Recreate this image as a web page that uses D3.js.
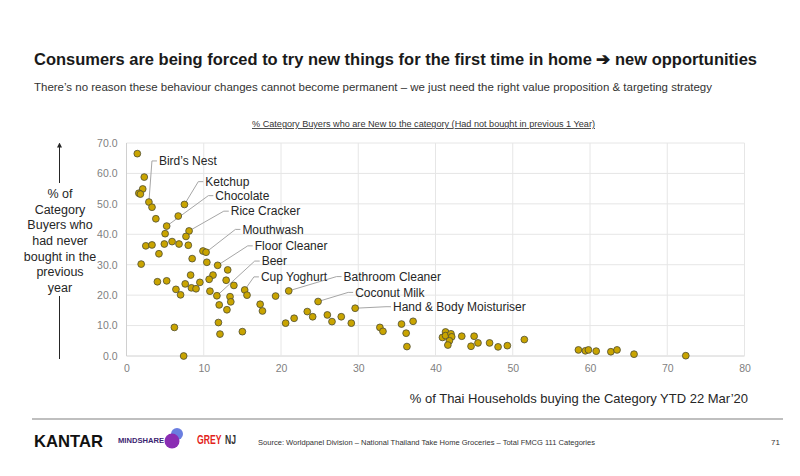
<!DOCTYPE html>
<html>
<head>
<meta charset="utf-8">
<script src="https://cdn.jsdelivr.net/npm/d3@7"></script>
<style>
  body { margin:0; background:#fff; }
  text { font-family: "Liberation Sans", Arial, sans-serif; }
</style>
</head>
<body>
<div id="chart"></div>
<script>
// % of Thai households buying the category (x) vs % of category buyers new to it (y)
const households = [1.4,2.3,2.1,1.6,1.8,2.9,3.3,3.8,7.5,6.7,5.2,5.0,8.1,7.7,2.5,3.3,4.9,5.9,6.8,8.0,
  9.9,10.3,4.2,8.5,1.9,10.4,11.8,13.1,8.3,11.2,10.7,12.9,4.0,5.2,7.6,9.5,8.4,9.0,6.4,7.0,
  10.8,11.7,13.4,13.5,12.0,13.0,11.9,12.1,6.2,7.4,13.9,15.3,15.6,15.0,17.3,17.6,19.3,21.0,20.6,21.7,
  23.4,24.1,24.8,26.0,26.6,27.8,29.1,29.6,32.8,33.2,35.6,37.1,36.2,36.3,40.9,41.3,41.3,42.0,42.1,41.8,
  41.6,43.4,45.0,44.6,45.5,47.0,48.1,49.3,51.5,58.5,59.4,59.8,60.8,62.7,63.5,65.7,72.4]
const newBuyers = [66.5,58.8,54.9,53.5,53.2,50.6,48.9,45.1,49.8,46.0,42.7,40.2,41.1,39.3,36.2,36.5,36.8,37.6,36.8,36.4,
  34.5,34.1,33.6,32.0,30.2,30.8,29.8,28.3,26.6,26.6,25.2,24.9,24.4,24.7,23.7,24.2,22.4,22.1,21.9,20.1,
  21.3,19.8,19.5,17.8,16.8,15.2,11.0,7.2,9.4,0.0,23.2,21.7,20.0,8.0,17.0,14.8,19.7,21.4,10.8,12.4,
  14.6,12.9,17.9,13.5,11.3,12.9,10.8,15.7,9.4,8.1,10.5,11.4,7.5,3.1,6.1,7.9,6.7,7.3,6.3,5.0,
  3.6,6.5,6.5,3.2,4.3,4.3,3.0,3.4,5.4,2.0,1.7,2.0,1.6,1.4,2.0,0.6,0.1]

// labelled categories: name, x/y of the point they describe
const labelNames = ["Bird\u2019s Nest","Ketchup","Chocolate","Rice Cracker","Mouthwash","Floor Cleaner",
  "Beer","Cup Yoghurt","Bathroom Cleaner","Coconut Milk","Hand & Body Moisturiser"]
const labelX = [2.9,7.5,5.2,8.1,10.3,11.8,11.7,15.3,21.0,24.8,29.6]
const labelY = [50.6,49.8,42.7,41.1,34.1,29.8,19.8,21.7,21.4,17.9,15.7]

const xTicks = [0,10,20,30,40,50,60,70,80]
const yTicks = [0,10,20,30,40,50,60,70]

const W = 800, H = 476

const svg = d3.select("#chart").append("svg")
  .attr("width", W).attr("height", H)

const x = d3.scaleLinear().domain([0,80]).range([126.5,744.5])
const y = d3.scaleLinear().domain([0,70]).range([356,143])

// where label text sits, in data units
const textAt = [[4.2,64.1],[10.2,57.3],[11.5,52.7],[13.5,47.6],[15.0,41.6],[16.6,36.2],
  [17.5,31.2],[17.4,26.0],[28.1,26.1],[29.6,20.9],[34.5,16.2]]

// titles
svg.append("text")
  .attr("x",34).attr("y",65)
  .attr("textLength",723).attr("lengthAdjust","spacingAndGlyphs")
  .style("font-size","16.5px").style("font-weight","bold").attr("fill","#1a1a1a")
  .text("Consumers are being forced to try new things for the first time in home \u2794 new opportunities")

svg.append("text")
  .attr("x",34).attr("y",91)
  .attr("textLength",678).attr("lengthAdjust","spacingAndGlyphs")
  .style("font-size","11.5px").attr("fill","#333")
  .text("There\u2019s no reason these behaviour changes cannot become permanent \u2013 we just need the right value proposition & targeting strategy")

svg.append("text")
  .attr("x",252).attr("y",127)
  .attr("textLength",343).attr("lengthAdjust","spacingAndGlyphs")
  .style("font-size","8.5px").style("text-decoration","underline").attr("fill","#333")
  .text("% Category Buyers who are New to the category (Had not bought in previous 1 Year)")

// grid
svg.append("g")
  .selectAll("line").data(yTicks).enter().append("line")
  .attr("x1",x(0)).attr("x2",x(80))
  .attr("y1",d=>y(d)).attr("y2",d=>y(d))
  .attr("stroke",d=>d==0?"#d0d0d0":"#e6e6e6")
svg.append("g")
  .selectAll("line").data(xTicks).enter().append("line")
  .attr("y1",y(0)).attr("y2",y(70))
  .attr("x1",d=>x(d)).attr("x2",d=>x(d))
  .attr("stroke",d=>d==0?"#d0d0d0":"#e6e6e6")

// axes (labels only)
const xAxis = svg.append("g")
  .attr("transform","translate(0,"+y(0)+")")
  .call(d3.axisBottom(x).tickValues(xTicks).tickSize(0).tickPadding(9))
xAxis.select(".domain").remove()
xAxis.selectAll("text").attr("fill","#7f7f7f").style("font-size","10.5px")
  .style("font-family","Liberation Sans, Arial, sans-serif")

const yAxis = svg.append("g")
  .attr("transform","translate("+x(0)+",0)")
  .call(d3.axisLeft(y).tickValues(yTicks).tickSize(0).tickPadding(9).tickFormat(d3.format(".1f")))
yAxis.select(".domain").remove()
yAxis.selectAll("text").attr("fill","#7f7f7f").style("font-size","10.5px")
  .style("font-family","Liberation Sans, Arial, sans-serif")

// leader lines
const leaders = svg.append("g")
labelNames.forEach((n,i)=>{
  const tx = x(textAt[i][0]), ty = y(textAt[i][1])
  leaders.append("polyline")
    .attr("points",[[x(labelX[i]),y(labelY[i])],[tx-7,ty],[tx-2,ty]].map(p=>p.join(",")).join(" "))
    .attr("fill","none").attr("stroke","#a6a6a6").attr("stroke-width",1)
})

// points
svg.append("g")
  .selectAll("circle").data(households.map((d,i)=>[d,newBuyers[i]])).enter()
  .append("circle")
  .attr("cx",d=>x(d[0])).attr("cy",d=>y(d[1]))
  .attr("r",3.4)
  .attr("fill","#c9a400").attr("stroke","#4d4d33").attr("stroke-width",0.8)

// labels
svg.append("g")
  .selectAll("text").data(labelNames).enter().append("text")
  .attr("x",(d,i)=>x(textAt[i][0])).attr("y",(d,i)=>y(textAt[i][1]))
  .attr("dy","0.35em")
  .style("font-size","12px").attr("fill","#262626")
  .text(d=>d)

// y title with arrow
const yTitle = ["% of","Category","Buyers who","had never","bought in the","previous","year"]
svg.append("g").selectAll("text").data(yTitle).enter().append("text")
  .attr("x",60).attr("y",(d,i)=>193.5+i*15.7).attr("dy","0.35em")
  .attr("text-anchor","middle").style("font-size","12.5px").attr("fill","#262626")
  .text(d=>d)
svg.append("defs").append("marker")
  .attr("id","arr").attr("viewBox","0 0 10 10").attr("refX",5).attr("refY",5)
  .attr("markerWidth",5).attr("markerHeight",5).attr("orient","auto")
  .append("path").attr("d","M0,0L10,5L0,10z").attr("fill","#262626")
svg.append("line").attr("x1",59.5).attr("x2",59.5).attr("y1",183).attr("y2",145)
  .attr("stroke","#262626").attr("stroke-width",1).attr("marker-end","url(#arr)")
svg.append("line").attr("x1",59.5).attr("x2",59.5).attr("y1",296).attr("y2",359)
  .attr("stroke","#262626").attr("stroke-width",1)

// x title
svg.append("text")
  .attr("x",748).attr("y",403).attr("text-anchor","end")
  .style("font-size","13px").attr("fill","#262626")
  .text("% of Thai Households buying the Category YTD 22 Mar\u201920")

// footer
svg.append("line").attr("x1",32).attr("x2",783).attr("y1",419).attr("y2",419)
  .attr("stroke","#bfbfbf").attr("stroke-width",2)
svg.append("text").attr("x",34).attr("y",447)
  .attr("textLength",69).attr("lengthAdjust","spacingAndGlyphs")
  .style("font-size","17px").style("font-weight","bold").attr("fill","#111")
  .text("KANTAR")
svg.append("text").attr("x",118).attr("y",443)
  .attr("textLength",46).attr("lengthAdjust","spacingAndGlyphs")
  .style("font-size","7px").style("font-weight","bold").attr("fill","#3b2470")
  .text("MINDSHARE")
svg.append("circle").attr("cx",177).attr("cy",434).attr("r",6).attr("fill","#6a7ee0")
svg.append("circle").attr("cx",172).attr("cy",441).attr("r",7.5).attr("fill","#8a2db3")
svg.append("text").attr("transform","translate(197,444) scale(0.72,1)")
  .style("font-size","12px").style("font-weight","bold").attr("fill","#e2231a")
  .text("GREY")
svg.append("text").attr("transform","translate(225,444) scale(0.72,1)")
  .style("font-size","12px").style("font-weight","bold").attr("fill","#333")
  .text("NJ")
svg.append("text").attr("x",258).attr("y",445)
  .attr("textLength",337).attr("lengthAdjust","spacingAndGlyphs")
  .style("font-size","7.5px").attr("fill","#333")
  .text("Source: Worldpanel Division \u2013 National Thailand Take Home Groceries \u2013 Total FMCG 111 Categories")
svg.append("text").attr("x",780).attr("y",445).attr("text-anchor","end")
  .style("font-size","8px").attr("fill","#333").text("71")
</script>
</body>
</html>
